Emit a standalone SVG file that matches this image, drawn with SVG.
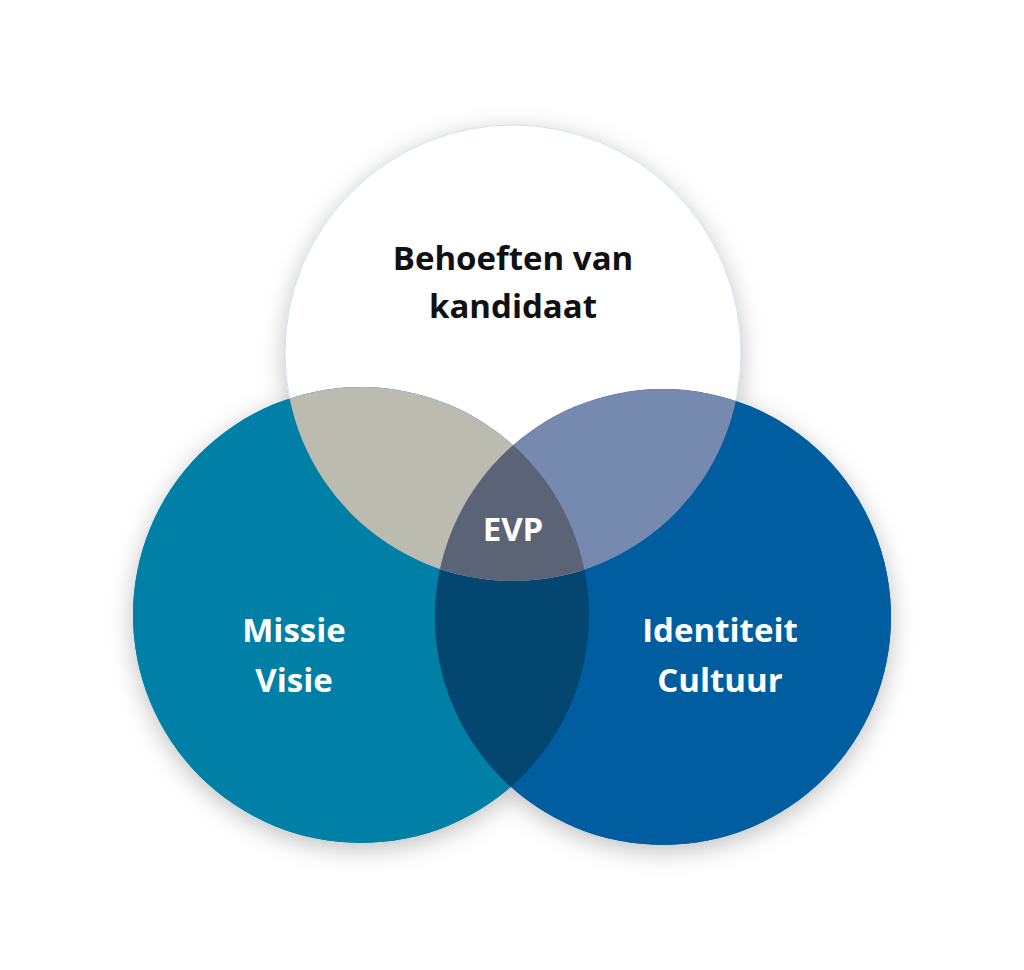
<svg xmlns="http://www.w3.org/2000/svg" width="1024" height="970" viewBox="0 0 1024 970">
<style>
.t{font-family:"Open Sans","Liberation Sans",sans-serif;font-weight:bold;font-size:33px;text-anchor:middle}
.w{fill:#fff}.k{fill:#111}
</style>
<defs>
<filter id="sh" x="-20%" y="-20%" width="140%" height="140%"><feDropShadow dx="0" dy="6" stdDeviation="12" flood-color="#000" flood-opacity="0.25"/></filter>
<clipPath id="cT"><circle cx="513" cy="353" r="228"/></clipPath>
<clipPath id="cL"><circle cx="361" cy="615" r="228"/></clipPath>
<clipPath id="cR"><circle cx="663" cy="617" r="228"/></clipPath>
</defs>
<rect width="1024" height="970" fill="#fff"/>
<g filter="url(#sh)">
<circle cx="361" cy="615" r="228" fill="#0080A6"/>
<circle cx="663" cy="617" r="228" fill="#005DA0"/>
<circle cx="513" cy="353" r="228" fill="#fff"/>
</g>
<g id="top"><circle cx="513" cy="353" r="228" fill="#fff" stroke="#cfe3ea" stroke-width="1"/></g>
<g id="left"><circle cx="361" cy="615" r="228" fill="#0080A6"/></g>
<g id="right"><circle cx="663" cy="617" r="228" fill="#005DA0"/></g>
<g id="overlaps">
<g clip-path="url(#cL)"><circle cx="663" cy="617" r="228" fill="#03466F"/></g>
<g clip-path="url(#cT)"><circle cx="361" cy="615" r="228" fill="#BCBBAF"/><circle cx="663" cy="617" r="228" fill="#7689AE"/>
<g clip-path="url(#cL)"><circle cx="663" cy="617" r="228" fill="#5B6477"/></g></g>
</g>
<g id="labels">
<text class="t k" x="513" y="270">Behoeften van</text>
<text class="t k" x="513" y="318">kandidaat</text>
<text class="t w" x="513" y="541">EVP</text>
<text class="t w" x="294" y="642">Missie</text>
<text class="t w" x="294" y="692">Visie</text>
<text class="t w" x="720" y="642">Identiteit</text>
<text class="t w" x="720" y="692">Cultuur</text>
</g>
</svg>
